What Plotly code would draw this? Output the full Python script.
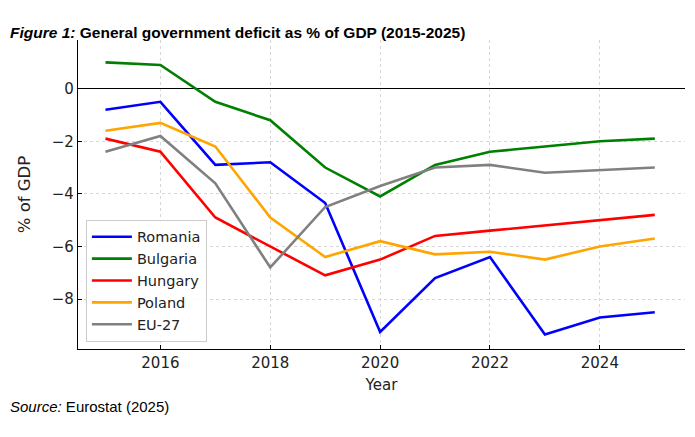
import plotly.graph_objects as go

# Data
years = list(range(2015, 2026))
romania = [-0.8, -0.5, -2.9, -2.8, -4.35, -9.25, -7.2, -6.4, -9.35, -8.7, -8.5]
bulgaria = [1.0, 0.9, -0.5, -1.2, -3.0, -4.1, -2.9, -2.4, -2.2, -2.0, -1.9]
hungary = [-1.9, -2.4, -4.9, -6.0, -7.1, -6.5, -5.6, -5.4, -5.2, -5.0, -4.8]
poland = [-1.6, -1.3, -2.2, -4.9, -6.4, -5.8, -6.3, -6.2, -6.5, -6.0, -5.7]
eu27 = [-2.4, -1.8, -3.6, -6.8, -4.5, -3.7, -3.0, -2.9, -3.2, -3.1, -3.0]

series = [
    ("Romania", romania, "#0000ff"),
    ("Bulgaria", bulgaria, "#008000"),
    ("Hungary", hungary, "#ff0000"),
    ("Poland", poland, "#ffa500"),
    ("EU-27", eu27, "#808080"),
]

fig = go.Figure()
for name, vals, color in series:
    fig.add_trace(go.Scatter(
        x=years, y=vals, name=name, mode="lines",
        line=dict(color=color, width=2.6),
    ))

tick_font = dict(family="DejaVu Sans", size=15, color="#222")

# page body has an 8px margin, so the figure is a bit smaller and shifted
fig.update_layout(
    width=687, height=429,
    paper_bgcolor="white", plot_bgcolor="white",
    margin=dict(l=70, r=10, t=32, b=88),
    font=dict(family="DejaVu Sans", size=15, color="#222"),
    legend=dict(
        x=0.013, y=0.023, xanchor="left", yanchor="bottom",
        bgcolor="rgba(255,255,255,0.85)", bordercolor="#cccccc", borderwidth=1,
        font=dict(family="DejaVu Sans", size=14.5, color="#222"),
        itemwidth=40, tracegroupgap=0,
    ),
    annotations=[
        dict(text="<b><i>Figure 1:</i> General government deficit as % of GDP (2015-2025)</b>",
             xref="paper", yref="paper", x=0, y=1, xanchor="left", yanchor="top",
             showarrow=False, font=dict(family="Liberation Sans", size=15.5, color="black"),
             xshift=-70, yshift=18),
        dict(text="<i>Source:</i> Eurostat (2025)",
             xref="paper", yref="paper", x=0, y=0, xanchor="left", yanchor="middle",
             showarrow=False, font=dict(family="Liberation Sans", size=15, color="black"),
             xshift=-70, yshift=-57),
    ],
)

fig.update_xaxes(
    range=[2014.5, 2025.55],
    tickvals=[2016, 2018, 2020, 2022, 2024],
    ticks="inside", ticklen=4, tickcolor="black",
    showline=True, linecolor="black", linewidth=1.3,
    showgrid=True, gridcolor="#d6d6d6", griddash="3px,3px", gridwidth=1,
    zeroline=False, tickfont=tick_font,
    title=dict(text="Year", font=dict(family="DejaVu Sans", size=15), standoff=8),
)
fig.update_yaxes(
    range=[-9.9, 1.85],
    tickvals=[-8, -6, -4, -2, 0],
    ticks="inside", ticklen=4, tickcolor="black",
    showline=True, linecolor="black", linewidth=1.3,
    showgrid=True, gridcolor="#d6d6d6", griddash="3px,3px", gridwidth=1,
    zeroline=True, zerolinecolor="black", zerolinewidth=1.3,
    tickfont=tick_font,
    title=dict(text="% of GDP", font=dict(family="DejaVu Sans", size=16.5), standoff=16),
)

fig.write_html("out.html")
